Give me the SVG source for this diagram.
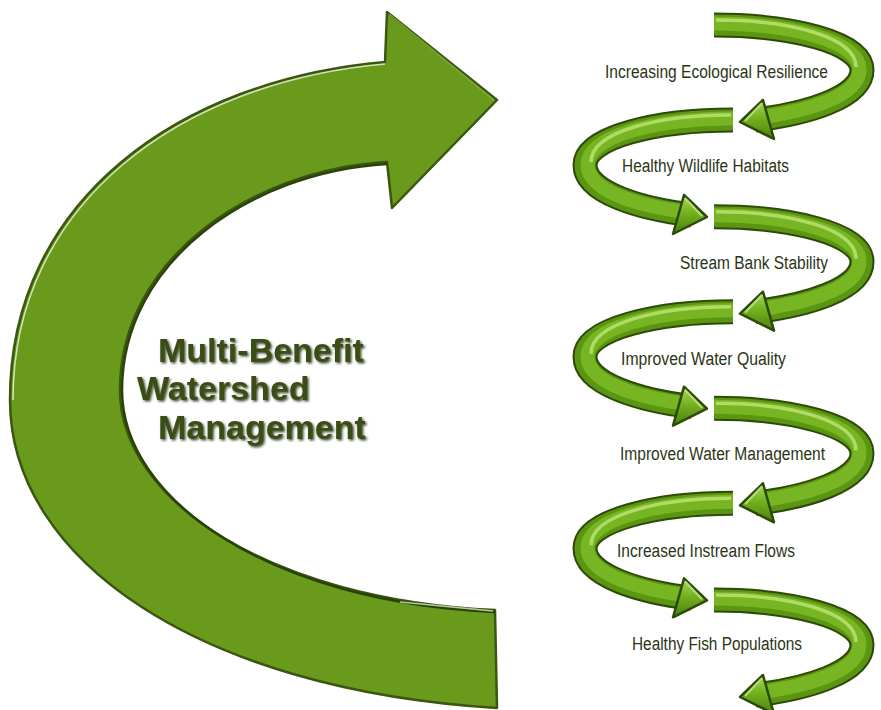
<svg xmlns="http://www.w3.org/2000/svg" width="881" height="710" viewBox="0 0 881 710">
<defs>
<style>
.lbl{font-family:"Liberation Sans",Arial,sans-serif;font-size:18px;fill:#2b3516}
.big{font-family:"Liberation Sans",Arial,sans-serif;font-size:34px;font-weight:bold;fill:#3a4e12;filter:url(#ts)}
.rb0{fill:none;stroke:#2e4a08;stroke-width:25;stroke-linecap:butt}
.rb1{fill:none;stroke:#5a9612;stroke-width:21;stroke-linecap:butt}
.rb2{fill:none;stroke:#78b523;stroke-width:14;stroke-linecap:butt}
.rb3{fill:none;stroke:#b4e06e;stroke-width:3.5;stroke-linecap:butt;opacity:0.9}
.hd{fill:url(#hg);stroke:#2e4a08;stroke-width:2.5;stroke-linejoin:round}
</style>
<filter id="ts" x="-5%" y="-20%" width="110%" height="140%">
<feDropShadow dx="1.5" dy="1.5" stdDeviation="0.8" flood-color="#1a2404" flood-opacity="0.8"/>
</filter>
<linearGradient id="hg" x1="0" y1="0" x2="0" y2="1">
<stop offset="0" stop-color="#a8d95a"/>
<stop offset="0.45" stop-color="#74b21f"/>
<stop offset="1" stop-color="#4b800e"/>
</linearGradient>
<g id="arrR">
<path class="rb0" d="M714,25 C790,25 862,42 862,70 C862,98 805,114 755,120"/>
<path class="rb1" d="M714,25 C790,25 862,42 862,70 C862,98 805,114 755,120"/>
<path class="rb2" d="M714,23.5 C790,23.5 859.5,41 859.5,69.5 C859.5,97 805,112 755,118"/>
<path class="rb3" d="M716,20 C790,20 856,37 856,67"/>
<path class="hd" d="M763,100 L740,122 L774,139 Z"/>
<path d="M762,103 L745,121" fill="none" stroke="#c2e68a" stroke-width="2" opacity="0.8"/>
</g>
</defs>
<rect width="881" height="710" fill="#ffffff"/>
<g id="main-arrow">
<path d="M495,610 C270,600 120,500 120,390 C120,260 250,170 387,162 L392,208 L497,100 L387,12 L385,62 C180,80 10,200 10,400 C10,560 200,690 497,708 Z" fill="#699a1b" stroke="#3a5610" stroke-width="2.5" stroke-linejoin="round"/>
<path d="M385,64 C182,82 13,202 13,400" fill="none" stroke="#e4efd2" stroke-width="1.6" opacity="0.85"/>
<path d="M389,14 L494,100" fill="none" stroke="#8fbf45" stroke-width="1.5" opacity="0.7"/>
<path d="M495,612 C270,602 122,500 122,390 C122,262 250,172 387,164" fill="none" stroke="#2a420a" stroke-width="2.5"/>
<path d="M400,602 L493,611" fill="none" stroke="#d8e8c0" stroke-width="1.5" opacity="0.8"/>
</g>
<g id="main-label">
<text class="big" x="158" y="362">Multi-Benefit</text>
<text class="big" x="137" y="400">Watershed</text>
<text class="big" x="158" y="439">Management</text>
</g>
<g id="connectors">
<use href="#arrR"/>
<use href="#arrR" transform="translate(1447,95) scale(-1,1)"/>
<use href="#arrR" transform="translate(0,191.7)"/>
<use href="#arrR" transform="translate(1447,286.7) scale(-1,1)"/>
<use href="#arrR" transform="translate(0,383.3)"/>
<use href="#arrR" transform="translate(1447,478.3) scale(-1,1)"/>
<use href="#arrR" transform="translate(0,575)"/>
</g>
<g id="n1"><text class="lbl" x="605" y="78" textLength="223" lengthAdjust="spacingAndGlyphs">Increasing Ecological Resilience</text></g>
<g id="n2"><text class="lbl" x="622" y="172" textLength="167" lengthAdjust="spacingAndGlyphs">Healthy Wildlife Habitats</text></g>
<g id="n3"><text class="lbl" x="680" y="269" textLength="148" lengthAdjust="spacingAndGlyphs">Stream Bank Stability</text></g>
<g id="n4"><text class="lbl" x="621" y="365" textLength="165" lengthAdjust="spacingAndGlyphs">Improved Water Quality</text></g>
<g id="n5"><text class="lbl" x="620" y="460" textLength="205" lengthAdjust="spacingAndGlyphs">Improved Water Management</text></g>
<g id="n6"><text class="lbl" x="617" y="557" textLength="178" lengthAdjust="spacingAndGlyphs">Increased Instream Flows</text></g>
<g id="n7"><text class="lbl" x="632" y="650" textLength="170" lengthAdjust="spacingAndGlyphs">Healthy Fish Populations</text></g>
</svg>
